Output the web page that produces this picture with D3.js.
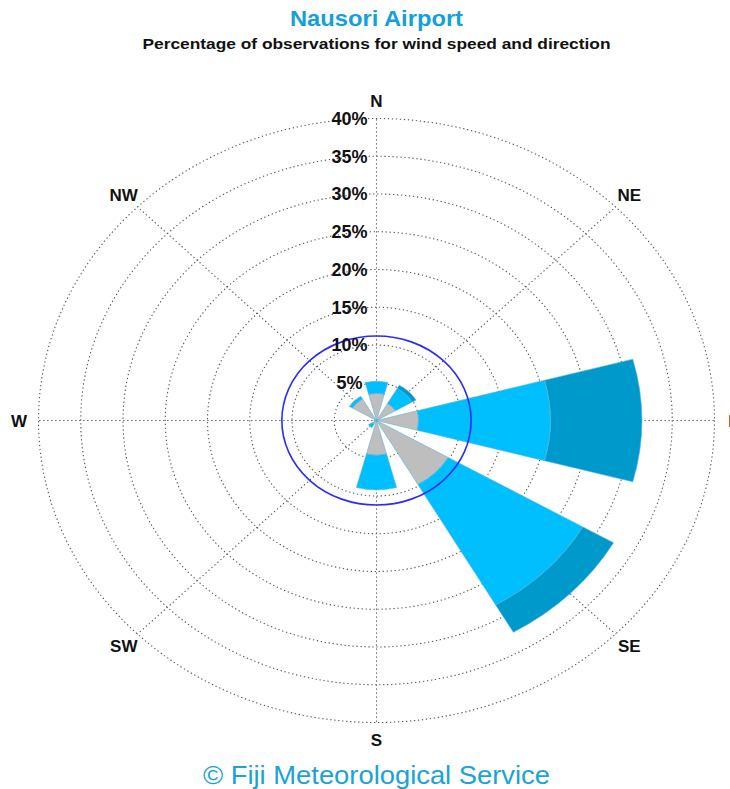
<!DOCTYPE html>
<html>
<head>
<meta charset="utf-8">
<script src="https://cdn.jsdelivr.net/npm/d3@7"></script>
<style>
  body { margin: 0; background: #fff; }
  svg { display: block; font-family: "Liberation Sans", Arial, sans-serif; }
</style>
</head>
<body>
<svg id="chart" width="730" height="789"></svg>
<script>
// wind rose data (percent of observations, per speed band, not cumulative)
const directions = ["N", "NE", "E", "SE", "S", "SW", "W", "NW"];
const band_low  = [3.6, 2.6, 5.0, 9.8, 4.6, 0.6, 0.3, 3.3];
const band_mid  = [1.6, 2.3, 15.6, 18.4, 4.6, 0.5, 0.0, 0.4];
const band_high = [0.0, 0.5, 10.8, 4.2, 0.0, 0.0, 0.0, 0.0];
const band_colors = ["#bebebe", "#00bfff", "#0099cc"];
const ring_ticks = [5, 10, 15, 20, 25, 30, 35, 40];
const calm_pct = 11.2;

const title = "Nausori Airport";
const subtitle = "Percentage of observations for wind speed and direction";
const footer = "\u00a9 Fiji Meteorological Service";

function render_rose()
{
    let svg = d3.select("#chart");
    let cx = 376.5, cy = 420.5;
    let ry_max = 302, rx_max = 338;   // the rose is stretched sideways
    let sx = rx_max / ry_max;

    let r = d3.scaleLinear().domain([0, 40]).range([0, ry_max]);
    let ang = d3.scaleBand().domain(directions).range([-Math.PI / 8, 2 * Math.PI - Math.PI / 8]);
    let half = 15 * Math.PI / 180;
    let mid = d => ang(d) + ang.bandwidth() / 2;

    let g = svg.append("g")
        .attr("transform", `translate(${cx},${cy}) scale(${sx},1)`);

    // grid rings
    g.selectAll("circle.ring")
        .data(ring_ticks)
        .enter()
        .append("circle")
            .attr("class", "ring")
            .attr("r", d => r(d))
            .attr("fill", "none")
            .attr("stroke", "#555")
            .attr("stroke-width", 1.1)
            .attr("stroke-dasharray", "1.3,2.7")
            .attr("vector-effect", "non-scaling-stroke");

    // spokes
    g.selectAll("line.spoke")
        .data(directions)
        .enter()
        .append("line")
            .attr("x1", 0).attr("y1", 0)
            .attr("x2", d => r(40) * Math.sin(mid(d)))
            .attr("y2", d => -r(40) * Math.cos(mid(d)))
            .attr("stroke", "#555")
            .attr("stroke-width", 1.1)
            .attr("stroke-dasharray", "1.3,2.7")
            .attr("vector-effect", "non-scaling-stroke");

    // stacked wedges
    let stacks = directions.map((d, i) => {
        let a = mid(d);
        let vals = [band_low[i], band_mid[i], band_high[i]];
        let acc = 0;
        return vals.map((v, j) => {
            let seg = { dir: d, inner: acc, outer: acc + v, band: j, a0: a - half, a1: a + half };
            acc += v;
            return seg;
        }).filter(s => s.outer > s.inner);
    }).flat();

    let arc = d3.arc()
        .innerRadius(s => r(s.inner))
        .outerRadius(s => r(s.outer))
        .startAngle(s => s.a0)
        .endAngle(s => s.a1);

    g.selectAll("path.wedge")
        .data(stacks)
        .enter()
        .append("path")
            .attr("class", "wedge")
            .attr("d", arc)
            .attr("fill", s => band_colors[s.band])
            .attr("stroke", "#5ab4d6")
            .attr("stroke-width", 0.6)
            .attr("vector-effect", "non-scaling-stroke");

    // calm circle
    g.append("circle")
        .attr("r", r(calm_pct))
        .attr("fill", "none")
        .attr("stroke", "#2b2bff")
        .attr("stroke-width", 1.6)
        .attr("vector-effect", "non-scaling-stroke");

    // ring labels
    svg.selectAll("text.tick")
        .data(ring_ticks)
        .enter()
        .append("text")
            .attr("class", "tick")
            .attr("x", cx - 27)
            .attr("y", d => cy - r(d))
            .attr("dy", "0.36em")
            .attr("text-anchor", "middle")
            .attr("font-size", 18)
            .attr("font-weight", "bold")
            .attr("fill", "#111")
            .text(d => `${d}%`);

    // direction labels
    svg.selectAll("text.dir")
        .data(directions)
        .enter()
        .append("text")
            .attr("class", "dir")
            .attr("x", d => cx + sx * r(42.3) * Math.sin(mid(d)))
            .attr("y", d => cy - r(42.3) * Math.cos(mid(d)))
            .attr("dy", "0.36em")
            .attr("text-anchor", "middle")
            .attr("font-size", 17)
            .attr("font-weight", "bold")
            .attr("fill", "#111")
            .text(d => d);

    svg.append("text")
        .attr("x", cx).attr("y", 26)
        .attr("text-anchor", "middle")
        .attr("font-size", 22)
        .attr("font-weight", "bold")
        .attr("fill", "#14a0d8")
        .attr("textLength", 173)
        .attr("lengthAdjust", "spacingAndGlyphs")
        .text(title);

    svg.append("text")
        .attr("x", cx).attr("y", 48.5)
        .attr("text-anchor", "middle")
        .attr("font-size", 15.5)
        .attr("font-weight", "bold")
        .attr("fill", "#111")
        .attr("textLength", 468)
        .attr("lengthAdjust", "spacingAndGlyphs")
        .text(subtitle);

    svg.append("text")
        .attr("x", cx).attr("y", 784)
        .attr("text-anchor", "middle")
        .attr("font-size", 25)
        .attr("fill", "#1ba2d6")
        .attr("textLength", 347)
        .attr("lengthAdjust", "spacingAndGlyphs")
        .text(footer);
}

render_rose();
</script>
</body>
</html>
